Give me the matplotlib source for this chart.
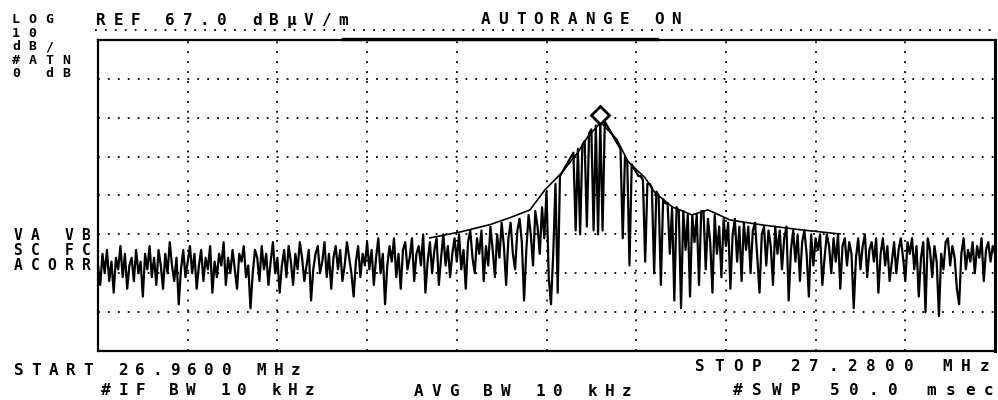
import numpy as np
import matplotlib
matplotlib.use("Agg")
import matplotlib.pyplot as plt
from matplotlib.lines import Line2D
from matplotlib import transforms

# ---------------- data ----------------
start_mhz = 26.96
stop_mhz = 27.28
ref_level_db = 67.0
db_per_div = 10.0
n_div_y = 8
n_div_x = 10

# swept trace (dBuV/m), 401 points from START to STOP
trace_db = [
    9, 4, 12, 7, 13, 5, 10, 2, 11, 8, 14, 6, 12, 3, 9, 11, 5, 13, 7, 10,
    1, 12, 8, 14, 6, 11, 4, 13, 9, 3, 12, 7, 15, 9, 5, 11, -1, 8, 13, 6,
    10, 14, 7, 12, 3, 9, 13, 5, 11, 8, 14, 2, 10, 6, 12, 9, 15, 4, 11, 7,
    13, 8, 3, 12, 10, 14, 6, 9, -2, 7, 13, 11, 5, 14, 8, 12, 4, 10, 15, 7,
    11, 2, 9, 13, 6, 14, 10, 4, 12, 8, 15, 11, 5, 9, 13, 0, 8, 12, 14, 7,
    10, 15, 6, 12, 3, 11, 14, 8, 13, 5, 9, 15, 11, 7, 1, 10, 14, 6, 12, 9,
    15, 8, 13, 4, 11, 16, 7, 12, -1, 9, 14, 10, 16, 6, 12, 3, 13, 15, 8, 11,
    16, 5, 12, 14, 9, 17, 2, 10, 15, 7, 13, 16, 4, 11, 17, 9, 14, 6, 12, 16,
    10, 17, 8, 13, 3, 15, 18, 11, 7, 16, 12, 18, 5, 14, 9, 19, 13, 6, 17, 11,
    20, 14, 4, 16, 20, 12, 8, 18, 21, 15, 0, 13, 22, 17, 9, 23, 19, 12, 24, 16,
    28, 6, -1, 12, 30, 2, 32, 33, 34, 35, 36, 37, 38, 18, 39, 17, 40, 41, 19, 43,
    44, 18, 45, 17, 46, 18, 46, 45, 44, 43, 42, 41, 40, 39, 16, 37, 36, 9, 35, 34,
    33, 32, 32, 31, 10, 30, 30, 29, 7, 28, 27, 4, 26, 25, 25, 12, 24, 0, 24, 23,
    -2, 23, 13, 22, 1, 22, 15, 22, 4, 23,
    23, 8, 21, 15, 2, 22, 12, 19, 6, 21, 14, 20, 3, 17, 21, 10, 19, 5, 20, 13,
    19, 7, 18, 20, 11, 2, 17, 19, 9, 18, 14, 4, 19, 12, 18, 8, 16, 19, 0, 13,
    18, 10, 17, 5, 15, 18, 12, 1, 17, 9, 16, 13, 17, 4, 11, 17, 14, 7, 16, 10,
    17, 3, 14, 16, 9, 15, 12, -2, 11, 16, 8, 14, 17, 6, 13, 15, 10, 16, 2, 12,
    16, 9, 14, 5, 10, 15, 7, 13, 16, 11, 5, 15, 12, 16, 8, 14, 1, 11, 15, -3,
    16, 13, 6, 14, 10, -4, 12, 8, 15, 16, 9, 14, 11, 3, -1, 12, 16, 8, 13, 10,
    15, 7, 14, 11, 16, 5, 13, 15, 10, 14, 12,
]

# smooth upper envelope around the carrier
env_mhz = [27.0784, 27.0891, 27.0998, 27.1070, 27.1141, 27.1195, 27.1255,
           27.1312, 27.1348, 27.1394, 27.1451, 27.1491, 27.1551, 27.1587,
           27.1648, 27.1719, 27.1776, 27.1855, 27.1962, 27.2104, 27.2247]
env_db = [16.1, 17.6, 19.5, 21.3, 23.3, 28.5, 32.9, 38.1, 42.2, 45.8, 41.4,
          35.7, 31.6, 27.7, 24.1, 22.0, 23.3, 20.7, 19.5, 18.2, 17.1]

left_top_labels = ["LOG", "10", "dB/", "#ATN", "0 dB"]
left_mid_labels = ["VA VB", "SC FC", "ACORR"]
header_ref = "REF 67.0 dBμV/m"
header_mode = "AUTORANGE ON"
footer_start = "START 26.9600 MHz"
footer_stop = "STOP 27.2800 MHz"
footer_ifbw = "#IF BW 10 kHz"
footer_avgbw = "AVG BW 10 kHz"
footer_swp = "#SWP 50.0 msec"

# ---------------- figure ----------------
W, H = 998, 400
fig = plt.figure(figsize=(W / 100, H / 100), dpi=100)
fig.patch.set_facecolor("white")

ax = fig.add_axes([98 / W, 1 - 351 / H, (995 - 98) / W, (351 - 40) / H])
ax.set_facecolor("white")

freqs = np.linspace(start_mhz, stop_mhz, len(trace_db))
ax.plot(freqs, trace_db, color="black", lw=1.6, zorder=3)
ax.plot(env_mhz, env_db, color="black", lw=1.2, zorder=3)

bottom_db = ref_level_db - n_div_y * db_per_div
ax.set_xlim(start_mhz, stop_mhz)
ax.set_ylim(bottom_db, ref_level_db)
ax.set_xticks(np.linspace(start_mhz, stop_mhz, n_div_x + 1)[1:-1])
ax.set_yticks(np.linspace(bottom_db, ref_level_db, n_div_y + 1)[1:-1])
ax.tick_params(length=0, labelbottom=False, labelleft=False)
ax.grid(True, color="black", lw=1.3, linestyle=(0, (1, 4.5)))
for side, sp in ax.spines.items():
    sp.set_color("black")
    sp.set_linewidth(2.2 if side == "right" else 1.6)

# peak marker (diamond sitting on top of the peak)
ipk = int(np.argmax(trace_db))
off = transforms.offset_copy(ax.transData, fig=fig, x=0, y=7, units="dots")
ax.plot([freqs[ipk]], [trace_db[ipk]], marker="D", ms=9, mfc="white",
        mec="black", mew=2.0, transform=off, clip_on=False, zorder=5)

# decorative screen lines above graticule
fig.add_artist(Line2D([95 / W, 998 / W], [1 - 30 / H] * 2, color="black",
                      lw=1.3, linestyle=(0, (1, 4.5)), transform=fig.transFigure))
fig.add_artist(Line2D([343 / W, 657 / W], [1 - 39 / H] * 2, color="black",
                      lw=2.4, transform=fig.transFigure))


def hp_text(s, x_left, y_base, pitch, fs=11.5):
    for k, ch in enumerate(s):
        if ch == " ":
            continue
        fig.text((x_left + 6 + k * pitch) / W, 1 - y_base / H, ch,
                 ha="center", va="baseline", fontsize=fs, fontweight="bold",
                 family="DejaVu Sans Mono", color="black")


for lab, yb in zip(left_top_labels, [23, 37, 50, 64, 77]):
    hp_text(lab, 10, yb, 16.6, fs=9.5)
for lab, yb in zip(left_mid_labels, [240, 255, 270]):
    hp_text(lab, 12, yb, 17.0, fs=10.5)

hp_text(header_ref, 95, 25, 17.3)
hp_text(header_mode, 480, 24, 17.3)
hp_text(footer_start, 13, 375, 17.3)
hp_text(footer_ifbw, 100, 395, 17.0)
hp_text(footer_avgbw, 413, 396, 17.3)
hp_text(footer_stop, 694, 371, 19.0)
hp_text(footer_swp, 732, 395, 19.3)

fig.savefig("out.png", dpi=100, facecolor="white")
